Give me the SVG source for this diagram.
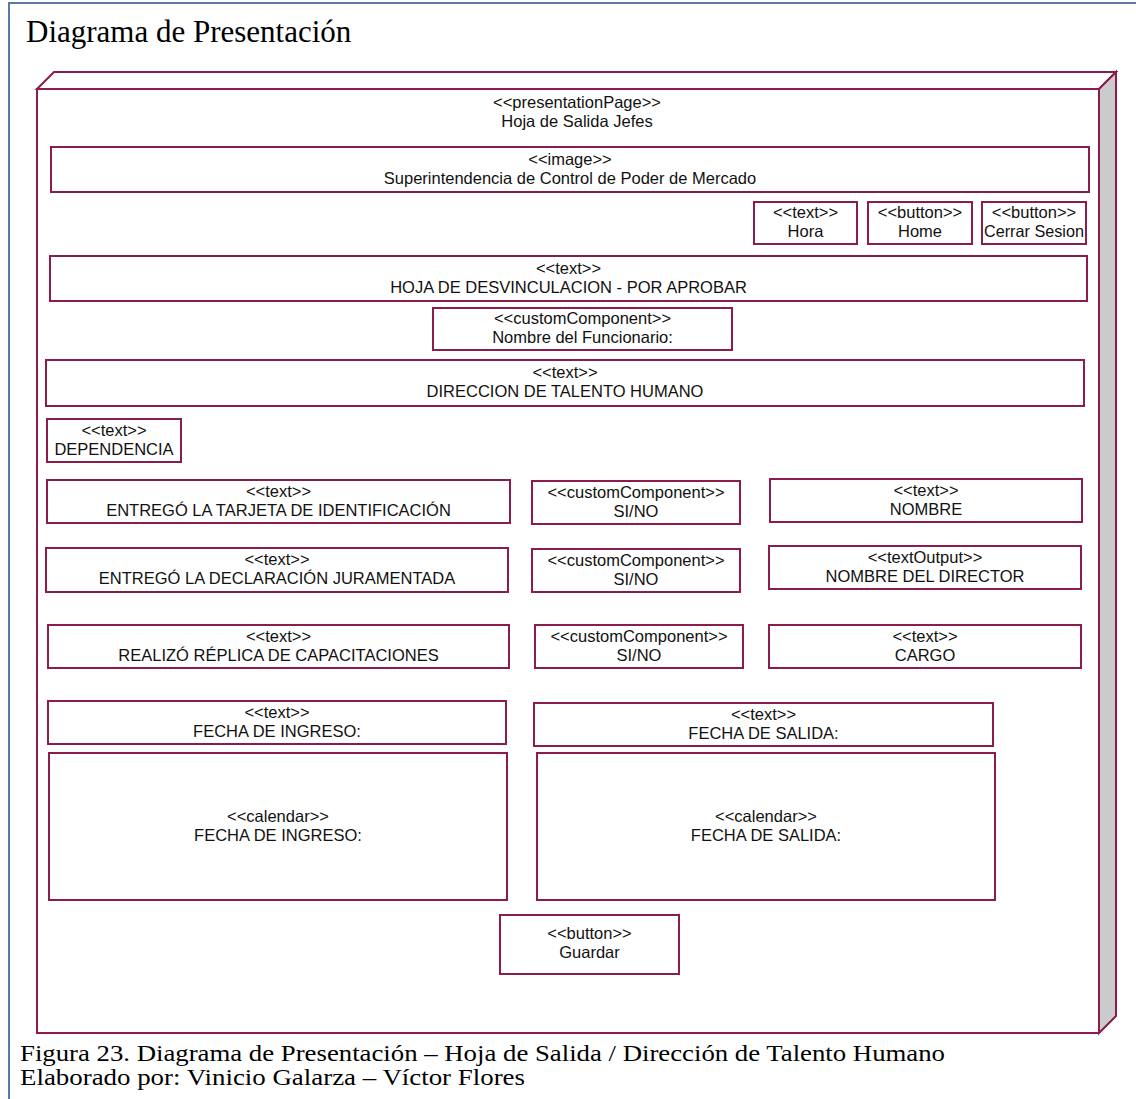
<svg xmlns="http://www.w3.org/2000/svg" width="1136" height="1099" viewBox="0 0 1136 1099">
  <style>
    .frame { fill: none; stroke: #5b7aa6; stroke-width: 2; }
    .pg { fill: #ffffff; stroke: #8c1c4e; stroke-width: 2; }
    .side { fill: #cbcbcb; stroke: #8c1c4e; stroke-width: 2; stroke-linejoin: miter; }
    .box { fill: #ffffff; stroke: #8c1c4e; stroke-width: 2; }
    .lbl { font-family: "Liberation Sans", Arial, sans-serif; font-size: 16.5px; fill: #111111; text-anchor: middle; }
    .title { font-family: "Liberation Serif", "Times New Roman", serif; font-size: 31px; fill: #000000; }
    .cap { font-family: "Liberation Serif", "Times New Roman", serif; font-size: 24px; fill: #000000; }
  </style>

  <rect width="1136" height="1099" fill="#ffffff"/>

  <!-- surrounding figure frame (open to the right and bottom) -->
  <rect class="frame" x="9" y="3" width="1200" height="1200"/>

  <text class="title" x="26" y="42">Diagrama de Presentación</text>

  <!-- presentation page drawn as a 3D node -->
  <g id="page">
    <polygon class="pg" points="37,89 54,72 1116,72 1099,89"/>
    <polygon class="side" points="1099,89 1116,72 1116,1016 1099,1033"/>
    <rect class="pg" x="37" y="89" width="1062" height="944"/>
    <text class="lbl" x="577" y="108">&lt;&lt;presentationPage&gt;&gt;</text>
    <text class="lbl" x="577" y="127">Hoja de Salida Jefes</text>
  </g>

  <g id="img-logo">
    <rect class="box" x="51" y="147" width="1038" height="45"/>
    <text class="lbl" x="570" y="165">&lt;&lt;image&gt;&gt;</text>
    <text class="lbl" x="570" y="184">Superintendencia de Control de Poder de Mercado</text>
  </g>

  <g id="txt-hora">
    <rect class="box" x="754" y="202" width="103" height="42"/>
    <text class="lbl" x="805.5" y="218">&lt;&lt;text&gt;&gt;</text>
    <text class="lbl" x="805.5" y="237">Hora</text>
  </g>

  <g id="btn-home">
    <rect class="box" x="868" y="202" width="104" height="42"/>
    <text class="lbl" x="920" y="218">&lt;&lt;button&gt;&gt;</text>
    <text class="lbl" x="920" y="237">Home</text>
  </g>

  <g id="btn-cerrar">
    <rect class="box" x="982" y="202" width="104" height="42"/>
    <text class="lbl" x="1034" y="218">&lt;&lt;button&gt;&gt;</text>
    <text class="lbl" x="1034" y="237" textLength="100" lengthAdjust="spacingAndGlyphs">Cerrar Sesion</text>
  </g>

  <g id="txt-hoja">
    <rect class="box" x="50" y="256" width="1037" height="45"/>
    <text class="lbl" x="568.5" y="274">&lt;&lt;text&gt;&gt;</text>
    <text class="lbl" x="568.5" y="293">HOJA DE DESVINCULACION - POR APROBAR</text>
  </g>

  <g id="cc-funcionario">
    <rect class="box" x="433" y="308" width="299" height="42"/>
    <text class="lbl" x="582.5" y="324">&lt;&lt;customComponent&gt;&gt;</text>
    <text class="lbl" x="582.5" y="343">Nombre del Funcionario:</text>
  </g>

  <g id="txt-direccion">
    <rect class="box" x="46" y="360" width="1038" height="46"/>
    <text class="lbl" x="565" y="378">&lt;&lt;text&gt;&gt;</text>
    <text class="lbl" x="565" y="397">DIRECCION DE TALENTO HUMANO</text>
  </g>

  <g id="txt-dependencia">
    <rect class="box" x="47" y="419" width="134" height="43"/>
    <text class="lbl" x="114" y="436">&lt;&lt;text&gt;&gt;</text>
    <text class="lbl" x="114" y="455">DEPENDENCIA</text>
  </g>

  <g id="txt-tarjeta">
    <rect class="box" x="47" y="480" width="463" height="43"/>
    <text class="lbl" x="278.5" y="497">&lt;&lt;text&gt;&gt;</text>
    <text class="lbl" x="278.5" y="516">ENTREGÓ LA TARJETA DE IDENTIFICACIÓN</text>
  </g>

  <g id="cc-sino-1">
    <rect class="box" x="532" y="481" width="208" height="43"/>
    <text class="lbl" x="636" y="498">&lt;&lt;customComponent&gt;&gt;</text>
    <text class="lbl" x="636" y="517">SI/NO</text>
  </g>

  <g id="txt-nombre">
    <rect class="box" x="770" y="479" width="312" height="43"/>
    <text class="lbl" x="926" y="496">&lt;&lt;text&gt;&gt;</text>
    <text class="lbl" x="926" y="515">NOMBRE</text>
  </g>

  <g id="txt-declaracion">
    <rect class="box" x="46" y="548" width="462" height="44"/>
    <text class="lbl" x="277" y="565">&lt;&lt;text&gt;&gt;</text>
    <text class="lbl" x="277" y="584">ENTREGÓ LA DECLARACIÓN JURAMENTADA</text>
  </g>

  <g id="cc-sino-2">
    <rect class="box" x="532" y="549" width="208" height="43"/>
    <text class="lbl" x="636" y="566">&lt;&lt;customComponent&gt;&gt;</text>
    <text class="lbl" x="636" y="585">SI/NO</text>
  </g>

  <g id="out-director">
    <rect class="box" x="769" y="546" width="312" height="43"/>
    <text class="lbl" x="925" y="563">&lt;&lt;textOutput&gt;&gt;</text>
    <text class="lbl" x="925" y="582">NOMBRE DEL DIRECTOR</text>
  </g>

  <g id="txt-replica">
    <rect class="box" x="48" y="625" width="461" height="43"/>
    <text class="lbl" x="278.5" y="642">&lt;&lt;text&gt;&gt;</text>
    <text class="lbl" x="278.5" y="661">REALIZÓ RÉPLICA DE CAPACITACIONES</text>
  </g>

  <g id="cc-sino-3">
    <rect class="box" x="535" y="625" width="208" height="43"/>
    <text class="lbl" x="639" y="642">&lt;&lt;customComponent&gt;&gt;</text>
    <text class="lbl" x="639" y="661">SI/NO</text>
  </g>

  <g id="txt-cargo">
    <rect class="box" x="769" y="625" width="312" height="43"/>
    <text class="lbl" x="925" y="642">&lt;&lt;text&gt;&gt;</text>
    <text class="lbl" x="925" y="661">CARGO</text>
  </g>

  <g id="txt-ingreso">
    <rect class="box" x="48" y="701" width="458" height="43"/>
    <text class="lbl" x="277" y="718">&lt;&lt;text&gt;&gt;</text>
    <text class="lbl" x="277" y="737">FECHA DE INGRESO:</text>
  </g>

  <g id="txt-salida">
    <rect class="box" x="534" y="703" width="459" height="43"/>
    <text class="lbl" x="763.5" y="720">&lt;&lt;text&gt;&gt;</text>
    <text class="lbl" x="763.5" y="739">FECHA DE SALIDA:</text>
  </g>

  <g id="cal-ingreso">
    <rect class="box" x="49" y="753" width="458" height="147"/>
    <text class="lbl" x="278" y="822">&lt;&lt;calendar&gt;&gt;</text>
    <text class="lbl" x="278" y="841">FECHA DE INGRESO:</text>
  </g>

  <g id="cal-salida">
    <rect class="box" x="537" y="753" width="458" height="147"/>
    <text class="lbl" x="766" y="822">&lt;&lt;calendar&gt;&gt;</text>
    <text class="lbl" x="766" y="841">FECHA DE SALIDA:</text>
  </g>

  <g id="btn-guardar">
    <rect class="box" x="500" y="915" width="179" height="59"/>
    <text class="lbl" x="589.5" y="939">&lt;&lt;button&gt;&gt;</text>
    <text class="lbl" x="589.5" y="958">Guardar</text>
  </g>

  <!-- no connectors in this page layout -->
  <g id="connectors"/>

  <text class="cap" x="20" y="1061" textLength="925" lengthAdjust="spacingAndGlyphs">Figura 23. Diagrama de Presentación – Hoja de Salida / Dirección de Talento Humano</text>
  <text class="cap" x="20" y="1085" textLength="505" lengthAdjust="spacingAndGlyphs">Elaborado por: Vinicio Galarza – Víctor Flores</text>
</svg>
